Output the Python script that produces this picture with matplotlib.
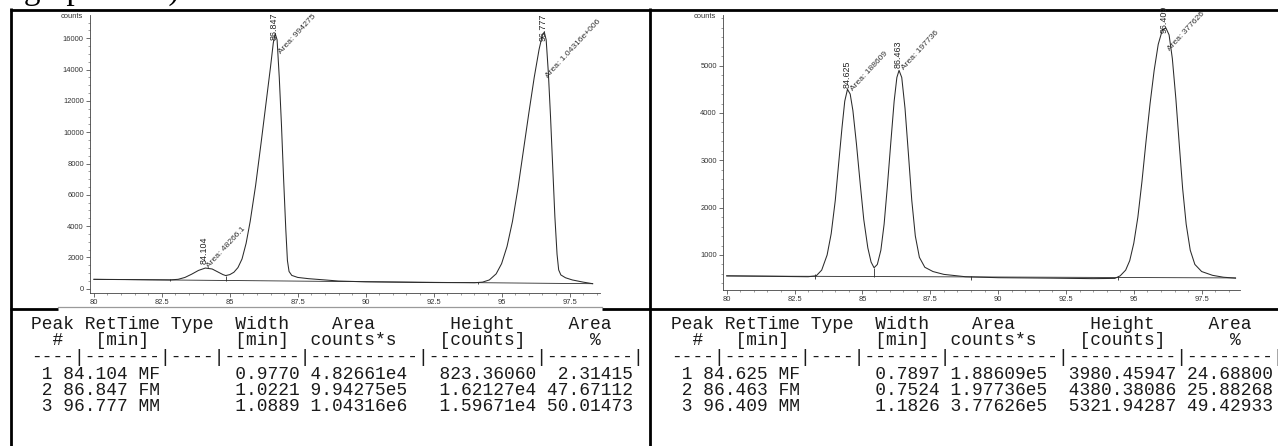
import matplotlib
matplotlib.use("Agg")
import matplotlib.pyplot as plt
from matplotlib.ticker import MultipleLocator

W, H = 1278, 446

# ---- chromatogram 1 (left) : time [min], signal [counts]
left_t = [80.0, 81.0, 82.0, 82.8, 83.1, 83.35, 83.6, 83.85, 84.1, 84.35, 84.55, 84.75, 84.85,
          85.0, 85.15, 85.3, 85.45, 85.6, 85.75, 85.95, 86.15, 86.35, 86.5, 86.6, 86.67, 86.74,
          86.82, 86.9, 86.98, 87.06, 87.12, 87.18, 87.28, 87.5, 87.9, 88.5, 89.0, 90.0, 91.0,
          92.0, 93.0, 94.0, 94.3, 94.55, 94.8, 95.0, 95.2, 95.4, 95.6, 95.8, 96.0, 96.2, 96.38,
          96.5, 96.57, 96.64, 96.72, 96.8, 96.88, 96.96, 97.04, 97.1, 97.18, 97.35, 97.6, 98.0, 98.35]
left_counts = [600, 585, 570, 560, 600, 720, 930, 1170, 1320, 1260, 1080, 900, 840,
               900, 1050, 1350, 1900, 2900, 4300, 6600, 9300, 12100, 14200, 15700, 16300, 15900,
               13500, 10500, 7000, 3800, 1800, 1100, 850, 720, 640, 560, 490, 440, 420,
               400, 390, 380, 420, 560, 950, 1600, 2700, 4300, 6400, 8800, 11200, 13500, 15300,
               16200, 16400, 15900, 13800, 11000, 7800, 4600, 2200, 1200, 880, 700, 560, 420, 320]
left_base_t = [80.0, 98.35]
left_base_c = [600, 320]
left_drop_t = [82.8, 84.85, 94.15]
left_drop_lo = [480, 520, 300]
left_drop_hi = [640, 840, 460]
left_rt_lab = ["84.104", "86.847", "96.777"]
left_rt_t = [84.05, 86.64, 96.52]
left_rt_c = [1600, 15900, 15800]
left_area_lab = ["Area: 48266.1", "Area: 994275", "Area: 1.04316e+006"]
left_area_t = [84.2, 86.83, 96.67]
left_area_c = [1400, 15040, 13550]

# ---- chromatogram 2 (right)
right_t = [80.0, 81.5, 83.0, 83.3, 83.5, 83.7, 83.85, 84.0, 84.12, 84.25, 84.35, 84.45, 84.55,
           84.65, 84.78, 84.92, 85.05, 85.2, 85.32, 85.43, 85.55, 85.68, 85.8, 85.92, 86.05,
           86.17, 86.27, 86.35, 86.45, 86.57, 86.7, 86.82, 86.95, 87.1, 87.3, 87.6, 88.0, 88.8,
           90.0, 92.0, 93.5, 94.3, 94.5, 94.7, 94.85, 95.0, 95.15, 95.3, 95.45, 95.6, 95.75,
           95.9, 96.05, 96.18, 96.3, 96.42, 96.55, 96.68, 96.8, 96.93, 97.08, 97.25, 97.5, 97.9,
           98.3, 98.75]
right_counts = [560, 550, 540, 560, 680, 1000, 1450, 2150, 2900, 3700, 4250, 4500, 4400,
                4050, 3350, 2500, 1750, 1150, 850, 730, 800, 1100, 1650, 2450, 3400,
                4250, 4750, 4900, 4750, 4100, 3100, 2150, 1400, 950, 740, 650, 590, 540,
                520, 510, 500, 505, 560, 680, 880, 1250, 1800, 2550, 3400, 4200, 4900,
                5450, 5750, 5800, 5650, 5150, 4300, 3300, 2400, 1650, 1100, 800, 650, 570,
                530, 510]
right_base_t = [80.0, 98.75]
right_base_c = [556, 515]
right_drop_t = [83.25, 85.43, 89.0, 94.4]
right_drop_lo = [500, 540, 480, 470]
right_drop_hi = [600, 730, 560, 560]
right_rt_lab = ["84.625", "86.463", "96.409"]
right_rt_t = [84.45, 86.33, 96.1]
right_rt_c = [4520, 4940, 5680]
right_area_lab = ["Area: 188609", "Area: 197736", "Area: 377626"]
right_area_t = [84.6, 86.48, 96.3]
right_area_c = [4490, 4940, 5330]

# ---- peak tables
left_pk = ["1", "2", "3"]
left_rt = ["84.104", "86.847", "96.777"]
left_type = ["MF", "FM", "MM"]
left_width = ["0.9770", "1.0221", "1.0889"]
left_area = ["4.82661e4", "9.94275e5", "1.04316e6"]
left_height = ["823.36060", "1.62127e4", "1.59671e4"]
left_pct = ["2.31415", "47.67112", "50.01473"]

right_pk = ["1", "2", "3"]
right_rt = ["84.625", "86.463", "96.409"]
right_type = ["MF", "FM", "MM"]
right_width = ["0.7897", "0.7524", "1.1826"]
right_area = ["1.88609e5", "1.97736e5", "3.77626e5"]
right_height = ["3980.45947", "4380.38086", "5321.94287"]
right_pct = ["24.68800", "25.88268", "49.42933"]

head1 = "Peak RetTime Type  Width    Area       Height     Area"
head2 = "  #   [min]        [min]  counts*s    [counts]      %"
dashes = "----|-------|----|-------|----------|----------|--------|"

fig = plt.figure(figsize=(W / 100, H / 100), dpi=100)

# page frame in pixel units
fr = fig.add_axes([0, 0, 1, 1])
fr.set_xlim(0, W)
fr.set_ylim(H, 0)
fr.axis("off")
fr.set_zorder(0)

fr.text(-2, -1, "regioproduct).", family="Liberation Serif", fontsize=24,
        ha="left", va="baseline", color="black")

blw = 2.0
fr.plot([11, 11], [8, H], color="black", lw=blw, solid_capstyle="butt")
fr.plot([650, 650], [8, H], color="black", lw=blw, solid_capstyle="butt")
fr.plot([10, W], [9.5, 9.5], color="black", lw=blw, solid_capstyle="butt")
fr.plot([10, 58], [309, 309], color="black", lw=blw, solid_capstyle="butt")
fr.plot([602, W], [309, 309], color="black", lw=blw, solid_capstyle="butt")
fr.plot([58, 602], [307, 307], color="#9a9a9a", lw=0.9)


def chart(x0, x1, ytop, ybot, t0px, ppm, c0px, ppk, ts, cs, bt, bc, dt, dlo, dhi,
          rlab, rt, rc, alab, at, ac, ymajor, yminor, ymax_tick):
    ax = fig.add_axes([x0 / W, 1 - ybot / H, (x1 - x0) / W, (ybot - ytop) / H])
    ax.set_zorder(2)
    ax.patch.set_alpha(0)
    ax.set_xlim(80 - (t0px - x0) / ppm, 80 + (x1 - t0px) / ppm)
    ax.set_ylim((c0px - ybot) / ppk * 1000, (c0px - ytop) / ppk * 1000)
    ax.plot(ts, cs, color="#2b2b2b", lw=0.75)
    ax.plot(bt, bc, color="#2b2b2b", lw=0.6)
    ax.vlines(dt, dlo, dhi, color="#2b2b2b", lw=0.6)
    for lab, x, y in zip(rlab, rt, rc):
        ax.text(x, y, lab, rotation=90, ha="center", va="bottom", fontsize=6.4,
                family="Liberation Sans", color="#222222")
    for lab, x, y in zip(alab, at, ac):
        ax.text(x, y, lab, rotation=47, rotation_mode="anchor", ha="left", va="center",
                fontsize=6.1, family="Liberation Sans", color="#333333")
    for s in ["top", "right"]:
        ax.spines[s].set_visible(False)
    for s in ["left", "bottom"]:
        ax.spines[s].set_linewidth(0.6)
        ax.spines[s].set_color("#444444")
    ax.xaxis.set_minor_locator(MultipleLocator(0.5))
    ax.set_xticks([80, 82.5, 85, 87.5, 90, 92.5, 95, 97.5])
    ax.set_xticklabels(["80", "82.5", "85", "87.5", "90", "92.5", "95", "97.5"])
    ticks = list(range(0 if ymajor == 2000 else 1000, ymax_tick + 1, ymajor))
    ax.set_yticks(ticks)
    ax.set_yticklabels([str(v) for v in ticks])
    ax.yaxis.set_minor_locator(MultipleLocator(yminor))
    ax.tick_params(which="major", length=3, width=0.5, pad=1.5, labelsize=5.4,
                   colors="#333333")
    ax.tick_params(which="minor", length=1.5, width=0.4, colors="#555555")
    for lb in ax.get_xticklabels() + ax.get_yticklabels():
        lb.set_family("Liberation Sans")
    fr.text(x0 - 7, ytop + 2, "counts", ha="right", va="center", fontsize=5.4,
            family="Liberation Sans", color="#333333")
    return ax


chart(90, 600, 15, 293, 93.9, 27.18, 288.7, 15.65, left_t, left_counts,
      left_base_t, left_base_c, left_drop_t, left_drop_lo, left_drop_hi,
      left_rt_lab, left_rt_t, left_rt_c, left_area_lab, left_area_t, left_area_c,
      2000, 500, 16000)
chart(723, 1240, 15, 290, 726.7, 27.14, 302.3, 47.33, right_t, right_counts,
      right_base_t, right_base_c, right_drop_t, right_drop_lo, right_drop_hi,
      right_rt_lab, right_rt_t, right_rt_c, right_area_lab, right_area_t, right_area_c,
      1000, 200, 5000)


def table(x0, pk, rt, typ, w, area, h, pct):
    lines = [head1, head2, dashes]
    for a, b, c, d, e, f, g in zip(pk, rt, typ, w, area, h, pct):
        lines.append(f"{a:>2} {b:>6} {c:<4}{d:>11} {e:<9} {f:>11} {g:>8}")
    ys = [329, 345, 362, 379, 395, 411]
    for line, y in zip(lines, ys):
        fr.text(x0, y, line, family="Liberation Mono", fontsize=12.9, ha="left",
                va="baseline", color="#1a1a1a")


table(31, left_pk, left_rt, left_type, left_width, left_area, left_height, left_pct)
table(671, right_pk, right_rt, right_type, right_width, right_area, right_height, right_pct)

fig.savefig("out.png", dpi=100)
